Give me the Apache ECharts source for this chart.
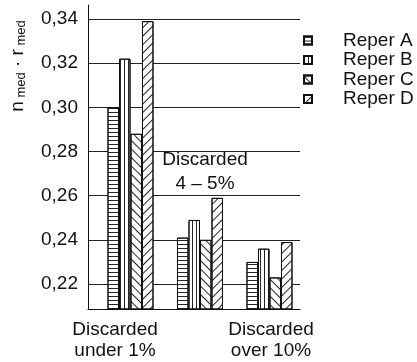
<!DOCTYPE html>
<html>
<head>
<meta charset="utf-8">
<script src="https://cdn.jsdelivr.net/npm/echarts@6/dist/echarts.min.js"></script>
<style>
  html, body { margin: 0; padding: 0; background: #fff; }
  #chart { width: 417px; height: 362px; }
</style>
</head>
<body>
<div id="chart"></div>
<script>
// ---- data ----
var categories = ['Discarded\nunder 1%', 'Discarded\n4 – 5%', 'Discarded\nover 10%'];
var seriesNames = ['Reper A', 'Reper B', 'Reper C', 'Reper D'];
var reperA = [0.300, 0.241, 0.230];
var reperB = [0.322, 0.249, 0.236];
var reperC = [0.288, 0.240, 0.223];
var reperD = [0.339, 0.259, 0.239];
var yTickStep = 0.02;

var FONT = '"Liberation Sans", Arial, sans-serif';
var INK = '#111';

function toPoints(arr) {
  return arr.map(function (v, i) { return [i + 1, v]; });
}

var decals = [
  { symbol: 'rect', symbolSize: 1, color: '#222', dashArrayX: [1, 0], dashArrayY: [1, 3] },
  { symbol: 'rect', symbolSize: 1, color: '#222', dashArrayX: [1, 3], dashArrayY: [1, 0] },
  { symbol: 'rect', symbolSize: 1, color: '#222', dashArrayX: [1, 0], dashArrayY: [1, 5], rotation: Math.PI / 4 },
  { symbol: 'rect', symbolSize: 1, color: '#222', dashArrayX: [1, 0], dashArrayY: [1, 5], rotation: -Math.PI / 4 }
];
var values = [reperA, reperB, reperC, reperD];

var series = seriesNames.map(function (name, k) {
  return {
    name: name,
    type: 'bar',
    barWidth: 11.5,
    barGap: '0%',
    data: toPoints(values[k]),
    itemStyle: { color: '#fff', borderColor: INK, borderWidth: 1, decal: decals[k] },
    emphasis: { disabled: true }
  };
});

var chart = echarts.init(document.getElementById('chart'), null, { renderer: 'canvas' });

chart.setOption({
  animation: false,
  backgroundColor: '#fff',
  textStyle: { fontFamily: FONT, color: INK },
  grid: { left: 88, right: 117, top: 5, bottom: 53, containLabel: false },
  xAxis: {
    type: 'value',
    min: 0.3885,
    max: 3.439,
    axisLine: { show: true, lineStyle: { color: INK, width: 1 } },
    axisTick: { show: false },
    axisLabel: { show: false },
    splitLine: { show: false }
  },
  yAxis: {
    type: 'value',
    min: 0.2087,
    max: 0.3463,
    splitNumber: 7,
    minInterval: yTickStep,
    maxInterval: yTickStep,
    axisLine: { show: true, lineStyle: { color: INK, width: 1 } },
    axisTick: { show: false },
    axisLabel: {
      showMinLabel: false,
      showMaxLabel: false,
      margin: 10,
      fontSize: 19,
      fontFamily: FONT,
      color: INK,
      formatter: function (v) { return v.toFixed(2).replace('.', ','); }
    },
    splitLine: { show: true, showMinLine: false, showMaxLine: false, lineStyle: { color: '#222', width: 1 } }
  },
  legend: {
    orient: 'vertical',
    left: 298,
    top: 26,
    itemWidth: 8,
    itemHeight: 8,
    itemGap: 0.5,
    icon: 'rect',
    data: seriesNames,
    textStyle: { fontSize: 19, fontFamily: FONT, color: INK, lineHeight: 19, padding: [0, 0, 0, 26] }
  },
  graphic: [
    {
      type: 'text', x: 18, y: 66, rotation: Math.PI / 2,
      style: {
        text: '{b|n}{s| med}{b| · r}{s| med}',
        align: 'center', verticalAlign: 'middle',
        fill: INK,
        rich: {
          b: { fontSize: 19, fontFamily: FONT, fill: INK, color: INK },
          s: { fontSize: 13, fontFamily: FONT, fill: INK, color: INK, verticalAlign: 'bottom' }
        }
      }
    },
    {
      type: 'text', x: 115, y: 340,
      style: { text: categories[0], font: '19px ' + FONT, lineHeight: 21, align: 'center', verticalAlign: 'middle', fill: INK }
    },
    {
      type: 'text', x: 205, y: 172,
      style: { text: categories[1], font: '19px ' + FONT, lineHeight: 24, align: 'center', verticalAlign: 'middle', fill: INK }
    },
    {
      type: 'text', x: 271, y: 340,
      style: { text: categories[2], font: '19px ' + FONT, lineHeight: 21, align: 'center', verticalAlign: 'middle', fill: INK }
    }
  ],
  series: series
});
</script>
</body>
</html>
